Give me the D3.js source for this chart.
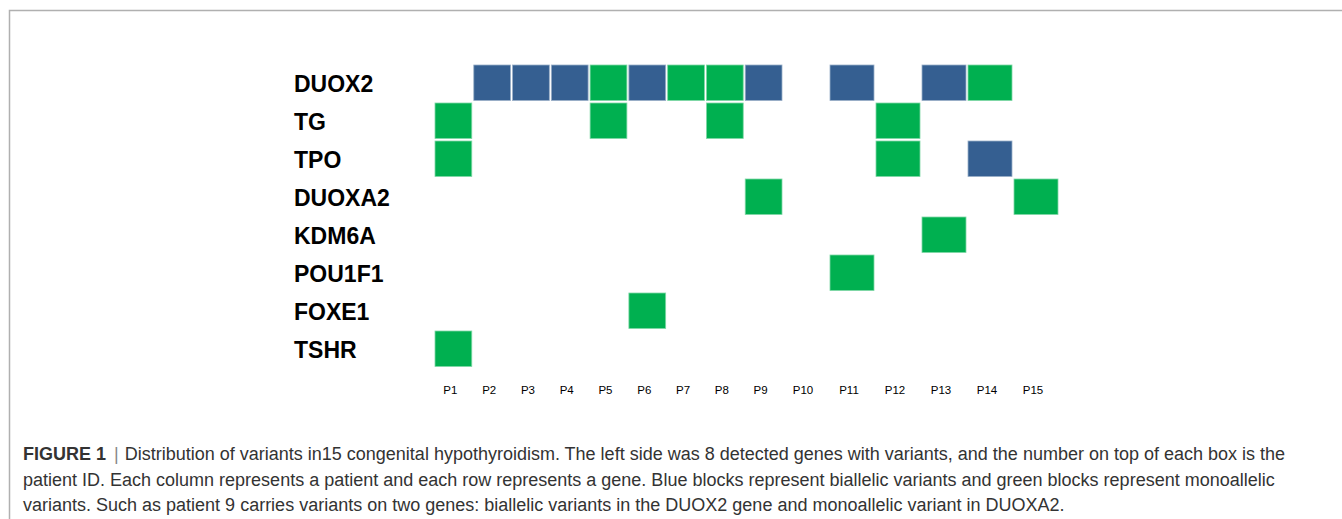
<!DOCTYPE html>
<html>
<head>
<meta charset="utf-8">
<script src="https://cdn.jsdelivr.net/npm/d3@7"></script>
<style>
  body { margin: 0; background: #fff; }
</style>
</head>
<body>
<svg width="1342" height="519"></svg>
<script>
// genes (rows) and patients (columns)
const genes = ['DUOX2', 'TG', 'TPO', 'DUOXA2', 'KDM6A', 'POU1F1', 'FOXE1', 'TSHR'];
const patients = ['P1','P2','P3','P4','P5','P6','P7','P8','P9','P10','P11','P12','P13','P14','P15'];

// 0 = none, 1 = monoallelic (green), 2 = biallelic (blue), one value per patient
const duox2  = [0,2,2,2,1,2,1,1,2,0,2,0,2,1,0];
const tg     = [1,0,0,0,1,0,0,1,0,0,0,1,0,0,0];
const tpo    = [1,0,0,0,0,0,0,0,0,0,0,1,0,2,0];
const duoxa2 = [0,0,0,0,0,0,0,0,1,0,0,0,0,0,1];
const kdm6a  = [0,0,0,0,0,0,0,0,0,0,0,0,1,0,0];
const pou1f1 = [0,0,0,0,0,0,0,0,0,0,1,0,0,0,0];
const foxe1  = [0,0,0,0,0,1,0,0,0,0,0,0,0,0,0];
const tshr   = [1,0,0,0,0,0,0,0,0,0,0,0,0,0,0];

const rows = [duox2, tg, tpo, duoxa2, kdm6a, pou1f1, foxe1, tshr];

const caption = [
  'Distribution of variants in15 congenital hypothyroidism. The left side was 8 detected genes with variants, and the number on top of each box is the',
  'patient ID. Each column represents a patient and each row represents a gene. Blue blocks represent biallelic variants and green blocks represent monoallelic',
  'variants. Such as patient 9 carries variants on two genes: biallelic variants in the DUOX2 gene and monoallelic variant in DUOXA2.'
];

const cells = [];
rows.forEach((r, gi) => r.forEach((v, pi) => {
  if (v) cells.push({ gene: genes[gi], idx: pi, type: v });
}));

const svg = d3.select('svg');

// figure frame
svg.append('path')
  .attr('d', 'M9.5,530 V10.5 H1350')
  .attr('fill', 'none')
  .attr('stroke', '#b0b0b0')
  .attr('stroke-width', 1.5);

// the table columns are narrower for P1-P9 than for P10-P15
const x = d3.scaleLinear()
  .domain([0, 9, 15])
  .range([434, 783, 1059]);

const y = d3.scaleBand()
  .domain(genes)
  .range([64, 368]);

const color = d3.scaleOrdinal()
  .domain([1, 2])
  .range(['#00b050', '#355f91']);

const chart = svg.append('g');

chart.selectAll('rect.cell')
  .data(cells)
  .join('rect')
  .attr('class', 'cell')
  .attr('x', d => x(d.idx) + 1)
  .attr('y', d => y(d.gene) + 1)
  .attr('width', d => x(d.idx + 1) - x(d.idx) - 2)
  .attr('height', y.bandwidth() - 2.5)
  .attr('fill', d => color(d.type))
  .attr('stroke', d => d.type == 1 ? '#7fd8a6' : '#9aafc8')
  .attr('stroke-width', 0.8);

// gene labels
chart.selectAll('text.gene')
  .data(genes)
  .join('text')
  .attr('class', 'gene')
  .attr('x', 294)
  .attr('y', d => y(d) + y.bandwidth() / 2 + 8.5)
  .attr('font-family', 'Liberation Sans, Arial, sans-serif')
  .attr('font-weight', 'bold')
  .attr('font-size', 23)
  .attr('fill', '#000')
  .text(d => d);

// patient labels
chart.selectAll('text.pat')
  .data(patients)
  .join('text')
  .attr('class', 'pat')
  .attr('x', (d, i) => (x(i) + x(i + 1)) / 2 - 3)
  .attr('y', 394)
  .attr('text-anchor', 'middle')
  .attr('font-family', 'Liberation Sans, Arial, sans-serif')
  .attr('font-size', 11.5)
  .attr('fill', '#000')
  .text(d => d);

// caption
const cap = svg.append('g')
  .attr('font-family', 'Liberation Sans, Arial, sans-serif')
  .attr('font-size', 18)
  .attr('fill', '#333');

const first = cap.append('text').attr('x', 23).attr('y', 460);
first.append('tspan').attr('font-weight', 'bold').text('FIGURE 1');
first.append('tspan').attr('fill', '#888').attr('dx', 3).text(' | ');
first.append('tspan').attr('dx', 1).text(caption[0]);

cap.append('text').attr('x', 23).attr('y', 485.5).text(caption[1]);
cap.append('text').attr('x', 23).attr('y', 511).text(caption[2]);
</script>
</body>
</html>
